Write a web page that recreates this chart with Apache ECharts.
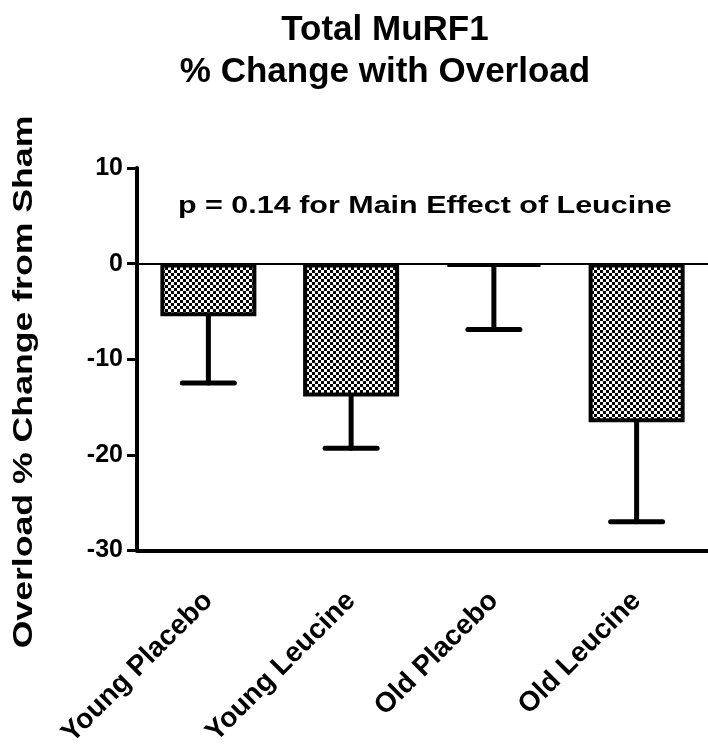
<!DOCTYPE html>
<html>
<head>
<meta charset="UTF-8">
<title>Total MuRF1</title>
<script src="https://cdn.jsdelivr.net/npm/echarts@6/dist/echarts.min.js"></script>
<style>
  html, body { margin: 0; padding: 0; background: #fff; }
</style>
</head>
<body>
<div id="chart" style="width:708px;height:750px;"></div>
<script type="text/javascript">
// data
var groups = ['Young Placebo', 'Young Leucine', 'Old Placebo', 'Old Leucine'];
var means = [-5.5, -13.9, -0.3, -16.6];
var sems = [7.0, 5.4, 6.6, 10.4];
var yTicks = [-30, -20, -10, 0, 10];

var FONT = '"Liberation Sans", Arial, sans-serif';

// small checkerboard tile for the bar fill
var tile = document.createElement('canvas');
tile.width = 6; tile.height = 6;
var tc = tile.getContext('2d');
tc.fillStyle = '#fff';
tc.fillRect(0, 0, 6, 6);
tc.fillStyle = '#000';
tc.fillRect(0, 0, 3, 3);
tc.fillRect(3, 3, 3, 3);

var errData = groups.map(function (g, i) {
    return [i, means[i], means[i] - sems[i]];
});

var myChart = echarts.init(document.getElementById('chart'));

var option = {
    animation: false,
    backgroundColor: '#fff',
    title: {
        text: 'Total MuRF1\n% Change with Overload',
        left: 380,
        textAlign: 'center',
        top: 4,
        textStyle: {
            fontFamily: FONT, fontWeight: 'bold', fontSize: 35,
            color: '#000', lineHeight: 42
        }
    },
    grid: { left: 137, top: 168, width: 576, height: 384 },
    xAxis: {
        type: 'category',
        data: groups,
        axisLine: { onZero: false, lineStyle: { color: '#000', width: 4 } },
        axisTick: { alignWithLabel: true, length: 10, lineStyle: { color: '#000', width: 3 } },
        axisLabel: {
            rotate: 45, margin: 46, color: '#000',
            fontFamily: FONT, fontWeight: 'bold', fontSize: 28
        }
    },
    yAxis: {
        type: 'value',
        min: -30, max: 10, interval: 10,
        splitLine: { show: false },
        axisLine: { show: true, lineStyle: { color: '#000', width: 4 } },
        axisTick: { show: true, length: 10, lineStyle: { color: '#000', width: 3 } },
        axisLabel: {
            margin: 14, color: '#000',
            fontFamily: FONT, fontWeight: 'bold', fontSize: 25,
            formatter: function (v) { return yTicks.indexOf(v) >= 0 ? String(v) : ''; }
        }
    },
    graphic: [{
        // annotation, stretched a little sideways like the source
        type: 'text',
        x: 178, y: 206,
        scaleX: 1.27,
        style: {
            text: 'p = 0.14 for Main Effect of Leucine',
            textVerticalAlign: 'middle',
            fontFamily: FONT, fontWeight: 'bold', fontSize: 24, fill: '#000'
        }
    }, {
        // y axis title
        type: 'text',
        x: 25, y: 382,
        rotation: Math.PI / 2,
        scaleX: 1.32,
        style: {
            text: 'Overload % Change from Sham',
            textAlign: 'center',
            textVerticalAlign: 'middle',
            fontFamily: FONT, fontWeight: 'bold', fontSize: 27, fill: '#000'
        }
    }],
    series: [{
        type: 'bar',
        data: means,
        barWidth: 96,
        itemStyle: {
            color: { image: tile, repeat: 'repeat' },
            borderColor: '#000',
            borderWidth: 4
        },
        markLine: {
            silent: true,
            symbol: 'none',
            label: { show: false },
            lineStyle: { color: '#000', width: 2, type: 'solid' },
            data: [{ yAxis: 0 }]
        },
        z: 2
    }, {
        type: 'custom',
        data: errData,
        z: 3,
        renderItem: function (params, api) {
            var top = api.coord([api.value(0), api.value(1)]);
            var bot = api.coord([api.value(0), api.value(2)]);
            var half = 26;
            var st = { stroke: '#000', lineWidth: 5, lineCap: 'round' };
            return {
                type: 'group',
                children: [{
                    type: 'line',
                    shape: { x1: top[0], y1: top[1], x2: bot[0], y2: bot[1] },
                    style: st
                }, {
                    type: 'line',
                    shape: { x1: bot[0] - half, y1: bot[1], x2: bot[0] + half, y2: bot[1] },
                    style: st
                }]
            };
        }
    }]
};

myChart.setOption(option);
</script>
</body>
</html>
